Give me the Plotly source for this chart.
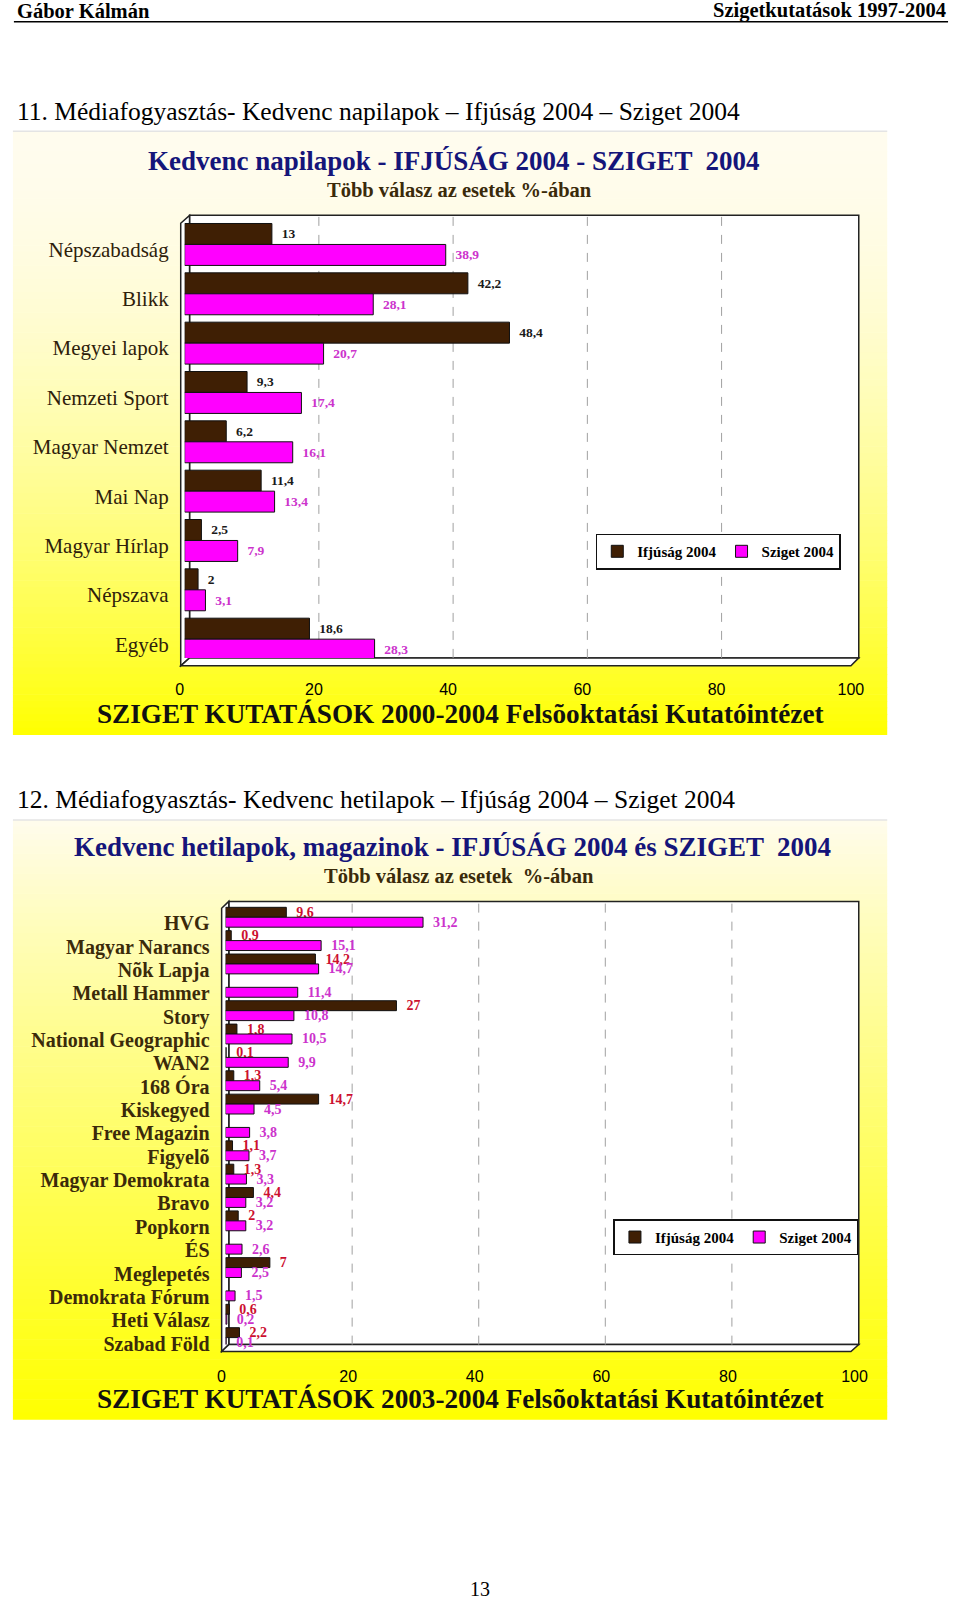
import plotly.graph_objects as go

W, H = 960, 1613
SERIF = "Liberation Serif"
SANS = "Liberation Sans"

# --- chart 11: napilapok ---
daily_papers = ["Népszabadság", "Blikk", "Megyei lapok", "Nemzeti Sport", "Magyar Nemzet",
                "Mai Nap", "Magyar Hírlap", "Népszava", "Egyéb"]
daily_ifjusag = [13, 42.2, 48.4, 9.3, 6.2, 11.4, 2.5, 2, 18.6]
daily_sziget = [38.9, 28.1, 20.7, 17.4, 16.1, 13.4, 7.9, 3.1, 28.3]

# --- chart 12: hetilapok, magazinok ---
weekly_papers = ["HVG", "Magyar Narancs", "Nõk Lapja", "Metall Hammer", "Story",
                 "National Geographic", "WAN2", "168 Óra", "Kiskegyed", "Free Magazin",
                 "Figyelõ", "Magyar Demokrata", "Bravo", "Popkorn", "ÉS", "Meglepetés",
                 "Demokrata Fórum", "Heti Válasz", "Szabad Föld"]
weekly_ifjusag = [9.6, 0.9, 14.2, None, 27, 1.8, 0.1, 1.3, 14.7, None,
                  1.1, 1.3, 4.4, 2, None, 7, None, 0.6, 2.2]
weekly_sziget = [31.2, 15.1, 14.7, 11.4, 10.8, 10.5, 9.9, 5.4, 4.5, 3.8,
                 3.7, 3.3, 3.2, 3.2, 2.6, 2.5, 1.5, 0.2, 0.1]

x_ticks = [0, 20, 40, 60, 80, 100]
series_names = ["Ifjúság 2004", "Sziget 2004"]

BROWN = "#3f1f04"
MAGENTA = "#ff00ff"


def px(x):
    return x / W


def py(y):
    return 1 - y / H


def lab(vals):
    return ["" if v is None else "\u00a0\u00a0" + f"{v:g}".replace(".", ",") for v in vals]


fig = go.Figure()

# chart 1 bars
fig.add_trace(go.Bar(y=daily_papers, x=daily_ifjusag, orientation="h", name=series_names[0],
                     marker=dict(color=BROWN, line=dict(color="#111", width=1)),
                     text=lab(daily_ifjusag), textposition="outside", constraintext="none",
                     textfont=dict(family=SERIF, size=13.5, color="#1a1a1a", weight="bold"),
                     cliponaxis=False, xaxis="x", yaxis="y", legend="legend"))
fig.add_trace(go.Bar(y=daily_papers, x=daily_sziget, orientation="h", name=series_names[1],
                     marker=dict(color=MAGENTA, line=dict(color="#111", width=1)),
                     text=lab(daily_sziget), textposition="outside", constraintext="none",
                     textfont=dict(family=SERIF, size=13.5, color="#cc33cc", weight="bold"),
                     cliponaxis=False, xaxis="x", yaxis="y", legend="legend"))

# chart 2 bars
fig.add_trace(go.Bar(y=weekly_papers, x=weekly_ifjusag, orientation="h", name=series_names[0],
                     marker=dict(color=BROWN, line=dict(color="#111", width=1)),
                     text=lab(weekly_ifjusag), textposition="outside", constraintext="none",
                     textfont=dict(family=SERIF, size=14, color="#cc1030", weight="bold"),
                     cliponaxis=False, xaxis="x2", yaxis="y2", legend="legend2"))
fig.add_trace(go.Bar(y=weekly_papers, x=weekly_sziget, orientation="h", name=series_names[1],
                     marker=dict(color=MAGENTA, line=dict(color="#111", width=1)),
                     text=lab(weekly_sziget), textposition="outside", constraintext="none",
                     textfont=dict(family=SERIF, size=14, color="#cc33cc", weight="bold"),
                     cliponaxis=False, xaxis="x2", yaxis="y2", legend="legend2"))

shapes = []


def gradient(x0, x1, y0, y1, gamma, n=90):
    step = (y1 - y0) / n
    for i in range(n):
        t = (i + 0.5) / n
        s = t ** gamma
        b = int(round(238 * (1 - s)))
        g = int(round(252 + 3 * s))
        shapes.append(dict(type="rect", xref="paper", yref="paper", layer="below",
                           x0=px(x0), x1=px(x1), y0=py(y0 + i * step), y1=py(y0 + (i + 1) * step + 0.6),
                           line=dict(width=0), fillcolor=f"rgb(255,{g},{b})"))
    shapes.append(dict(type="line", xref="paper", yref="paper", layer="below",
                       x0=px(x0), x1=px(x1), y0=py(y0), y1=py(y0),
                       line=dict(color="#e4e4e4", width=1.5)))


def frame(fl, bl, top, right, floor, dx, dy):
    # back wall
    shapes.append(dict(type="rect", xref="paper", yref="paper", layer="below",
                       x0=px(bl), x1=px(right), y0=py(floor), y1=py(top),
                       fillcolor="white", line=dict(color="#222", width=1.5)))
    # left wall
    path = (f"M{px(fl)},{py(top + dy)} L{px(bl)},{py(top)} L{px(bl)},{py(floor)} "
            f"L{px(fl)},{py(floor + dy)} Z")
    shapes.append(dict(type="path", xref="paper", yref="paper", layer="below", path=path,
                       fillcolor="white", line=dict(color="#222", width=1.5)))
    # floor
    path = (f"M{px(fl)},{py(floor + dy)} L{px(bl)},{py(floor)} L{px(right)},{py(floor)} "
            f"L{px(right - dx)},{py(floor + dy)} Z")
    shapes.append(dict(type="path", xref="paper", yref="paper", layer="below", path=path,
                       fillcolor="white", line=dict(color="#222", width=1.5)))


gradient(4, 895, 132, 739, 1.8)
gradient(4, 895, 825, 1428, 0.9)
frame(175, 184, 216.7, 866, 662, 8, 8)
frame(216.7, 224, 907, 866, 1353, 8, 7)

for xr, y0, y1 in [("x", 216.7, 662), ("x2", 907, 1353)]:
    for v in x_ticks[1:-1]:
        shapes.append(dict(type="line", xref=xr, yref="paper", layer="below",
                           x0=v, x1=v, y0=py(y1), y1=py(y0),
                           line=dict(color="#a0a0a0", width=1, dash="dash")))

# header rule
shapes.append(dict(type="line", xref="paper", yref="paper", x0=px(5), x1=px(957),
                   y0=py(22), y1=py(22), line=dict(color="black", width=1.5)))

ann = []


def text(s, x, y, size, color="black", bold=False, anchor="center", family=SERIF):
    ann.append(dict(text=f"<b>{s}</b>" if bold else s, x=px(x), y=py(y), xref="paper", yref="paper",
                    xanchor=anchor, yanchor="middle", showarrow=False,
                    font=dict(family=family, size=size, color=color)))


text("Gábor Kálmán", 6, 11, 20.5, bold=True, anchor="left")
text("Szigetkutatások 1997-2004", 957, 11, 20.5, bold=True, anchor="right")
text("11. Médiafogyasztás- Kedvenc napilapok – Ifjúság 2004 – Sziget 2004", 6, 112, 25.5, anchor="left")
text("12. Médiafogyasztás- Kedvenc hetilapok – Ifjúság 2004 – Sziget 2004", 6, 804, 25.5, anchor="left")
text("Kedvenc napilapok - IFJÚSÁG 2004 - SZIGET  2004", 453, 162, 27, color="#15157a", bold=True)
text("Több válasz az esetek %-ában", 459, 191, 20.5, color="#3a2a0a", bold=True)
text("Kedvenc hetilapok, magazinok - IFJÚSÁG 2004 és SZIGET  2004", 452, 852, 27, color="#15157a", bold=True)
text("Több válasz az esetek  %-ában", 459, 881, 20.5, color="#3a2a0a", bold=True)
text("SZIGET KUTATÁSOK 2000-2004 Felsõoktatási Kutatóintézet", 460, 718, 27.2, color="#111", bold=True)
text("SZIGET KUTATÁSOK 2003-2004 Felsõoktatási Kutatóintézet", 460, 1408, 27.2, color="#111", bold=True)
text("13", 480, 1599, 20)

xcommon = dict(range=[0, 100], tickvals=x_ticks, showgrid=False, zeroline=False, showline=False,
               ticks="", tickfont=dict(family=SANS, size=16, color="black"), fixedrange=True)
ycommon = dict(type="category", showgrid=False, zeroline=False, showline=False, ticks="",
               ticklabelstandoff=15, fixedrange=True)
legcommon = dict(xanchor="left", yanchor="middle", orientation="h",
                 bgcolor="white", bordercolor="#111", borderwidth=1.5, traceorder="normal",
                 font=dict(family=SERIF, size=15, color="black", weight="bold"), itemwidth=30)

fig.update_layout(
    width=W, height=H, margin=dict(l=0, r=0, t=0, b=0),
    paper_bgcolor="white", plot_bgcolor="rgba(0,0,0,0)",
    barmode="group", bargap=0.15, bargroupgap=0,
    showlegend=True,
    xaxis=dict(domain=[px(179), px(863)], anchor="y", ticklabelstandoff=20, ticklabelshift=-5, **xcommon),
    yaxis=dict(domain=[py(662), py(216.7)], anchor="x", categoryarray=daily_papers,
               tickmode="array", tickvals=daily_papers, ticklabelshift=-5,
               range=[8.38, -0.59], tickfont=dict(family=SERIF, size=21, color="#2e200a"), **ycommon),
    xaxis2=dict(domain=[px(220.7), px(865.7)], anchor="y2", ticklabelstandoff=20, ticklabelshift=-4, **xcommon),
    yaxis2=dict(domain=[py(1353), py(907)], anchor="x2", categoryarray=weekly_papers,
                tickmode="array", tickvals=weekly_papers, ticklabelshift=-6,
                range=[18.3, -0.68], tickfont=dict(family=SERIF, size=20, color="#3b2a0a", weight="bold"),
                **ycommon),
    legend=dict(x=px(598), y=py(555), **legcommon),
    legend2=dict(x=px(616), y=py(1245), **legcommon),
    shapes=shapes, annotations=ann,
)

fig.write_html("out.html", config={"displayModeBar": False},
               post_script="document.body.style.margin='0px';document.body.style.overflow='hidden';")
